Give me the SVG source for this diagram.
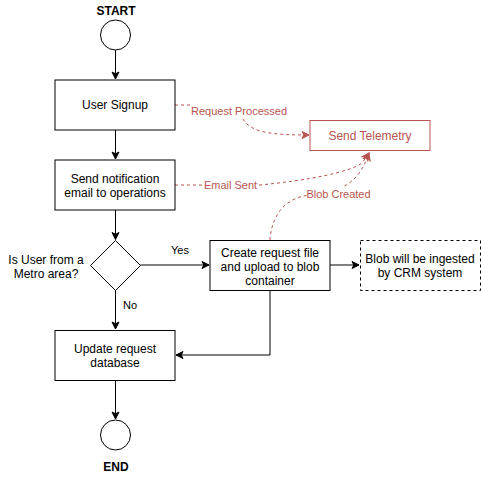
<svg xmlns="http://www.w3.org/2000/svg" width="481" height="481" viewBox="0 0 481 481">
<style>
.n{fill:#fff;stroke:#000;stroke-width:1}
.t{font-family:"Liberation Sans",Arial,sans-serif;font-size:12px;fill:#000;text-anchor:middle}
.b{font-weight:bold}
.l{font-family:"Liberation Sans",Arial,sans-serif;font-size:11px;fill:#000;text-anchor:middle}
.r{font-family:"Liberation Sans",Arial,sans-serif;font-size:11px;fill:#b85450;text-anchor:middle}
.e{fill:none;stroke:#000;stroke-width:1}
.d{fill:none;stroke:#b85450;stroke-width:1;stroke-dasharray:3 3}
.lb{fill:#fff}
</style>
<defs>
<marker id="a" markerWidth="10" markerHeight="10" refX="8" refY="5" orient="auto" markerUnits="userSpaceOnUse">
<path d="M1,1.5 L8,5 L1,8.5 L2.8,5 Z" fill="#000" stroke="#000"/>
</marker>
<marker id="ar" markerWidth="10" markerHeight="10" refX="8" refY="5" orient="auto" markerUnits="userSpaceOnUse">
<path d="M1,1.5 L8,5 L1,8.5 L2.8,5 Z" fill="#b85450" stroke="#b85450"/>
</marker>
</defs>
<g id="connectors">
<path class="e" d="M115.5,50 L115.5,79" marker-end="url(#a)"/>
<path class="e" d="M115.5,130 L115.5,159" marker-end="url(#a)"/>
<path class="e" d="M115.5,210 L115.5,239.5" marker-end="url(#a)"/>
<path class="e" d="M140.5,265 L209,265" marker-end="url(#a)"/>
<path class="e" d="M330,265 L359,265" marker-end="url(#a)"/>
<path class="e" d="M115.5,290 L115.5,329" marker-end="url(#a)"/>
<path class="e" d="M270,290 L270,355 L176,355" marker-end="url(#a)"/>
<path class="e" d="M115.5,380 L115.5,419" marker-end="url(#a)"/>
<path class="d" d="M175,105 L195,105 C235,105 238,112 245,122 C255,134 280,135 309,135" marker-end="url(#ar)"/>
<path class="d" d="M175,185 L260,185 C310,180 350,172 362,163 L369,153" marker-end="url(#ar)"/>
<path class="d" d="M270,240 C271,222 280,198 310,195 C345,192 360,180 369,153" marker-end="url(#ar)"/>
<rect class="lb" x="191" y="104" width="96" height="13"/>
<text class="r" x="239" y="115">Request Processed</text>
<rect class="lb" x="204" y="178" width="53" height="13"/>
<text class="r" x="230.5" y="189">Email Sent</text>
<rect class="lb" x="307" y="187" width="63" height="13"/>
<text class="r" x="338.5" y="198">Blob Created</text>
<text class="l" x="180" y="254">Yes</text>
<text class="l" x="130" y="309">No</text>
</g>
<g id="start">
<text class="t b" x="116" y="15">START</text>
<circle class="n" cx="115.5" cy="35" r="15"/>
</g>
<g id="signup">
<rect class="n" x="55" y="80" width="120" height="50"/>
<text class="t" x="115" y="109">User Signup</text>
</g>
<g id="notify">
<rect class="n" x="55" y="160" width="120" height="50"/>
<text class="t" x="115" y="183">Send notification</text>
<text class="t" x="115" y="197">email to operations</text>
</g>
<g id="telemetry">
<rect x="310" y="120.5" width="120" height="30" fill="#fff" stroke="#b85450"/>
<text class="t" x="370" y="140" fill="#b85450" style="fill:#b85450">Send Telemetry</text>
</g>
<g id="decision">
<path class="n" d="M115.5,240.5 L140.5,265.5 L115.5,290.5 L90.5,265.5 Z"/>
<text class="t" x="46" y="264">Is User from a</text>
<text class="t" x="46" y="278">Metro area?</text>
</g>
<g id="create">
<rect class="n" x="210" y="240.5" width="120" height="50"/>
<text class="t" x="270" y="257">Create request file</text>
<text class="t" x="270" y="271">and upload to blob</text>
<text class="t" x="270" y="285">container</text>
</g>
<g id="ingest">
<rect x="360.5" y="240.5" width="120" height="50" fill="#fff" stroke="#000" stroke-dasharray="3 3"/>
<text class="t" x="420" y="263">Blob will be ingested</text>
<text class="t" x="420" y="277">by CRM system</text>
</g>
<g id="update">
<rect class="n" x="55" y="330.5" width="120" height="50"/>
<text class="t" x="115" y="353">Update request</text>
<text class="t" x="115" y="367">database</text>
</g>
<g id="end">
<circle class="n" cx="115.5" cy="435" r="15"/>
<text class="t b" x="116" y="471">END</text>
</g>
</svg>
